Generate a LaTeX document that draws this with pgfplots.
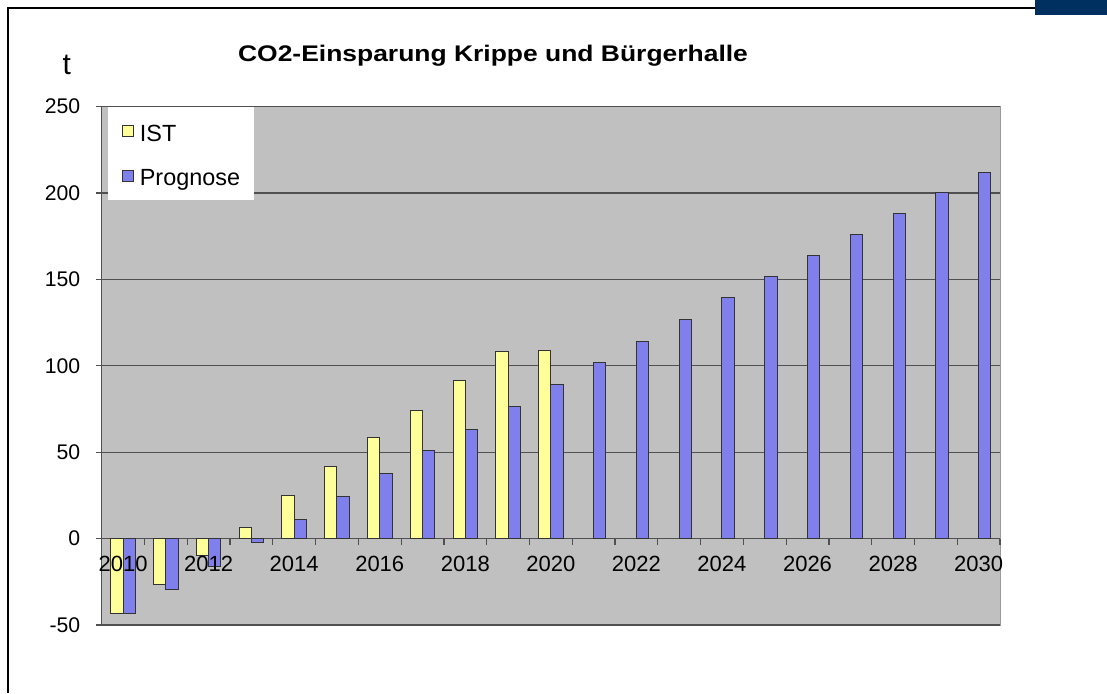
\documentclass[border=0pt]{standalone}
\usepackage{fontspec}
\setmainfont{Liberation Sans}
\usepackage{graphicx}
\usepackage{pgfplots}
\pgfplotsset{compat=1.18}
\definecolor{bgc}{RGB}{192,192,192}
\definecolor{istc}{RGB}{255,255,153}
\definecolor{proc}{RGB}{128,128,236}
\definecolor{gridc}{RGB}{80,80,80}
\definecolor{navy}{RGB}{0,48,96}
\pgfplotsset{common/.style={
  at={(50.85pt,34pt)}, anchor=south west,
  scale only axis, width=449.15pt, height=259.25pt,
  xmin=2009.5, xmax=2030.5, ymin=-50, ymax=250,
  enlargelimits=false,
  hide obscured x ticks=false, hide obscured y ticks=false,
  xtick={2010,2012,...,2030},
  xticklabels={2010,2012,2014,2016,2018,2020,2022,2024,2026,2028,2030},
  every major x tick/.append style={draw=none},
  minor tick length=3pt, major tick length=3pt,
  tick align=outside,
  xticklabel style={font=\fontsize{11}{13}\selectfont, yshift=-2pt},
}}
\begin{document}
\begin{tikzpicture}
\useasboundingbox (0,0) rectangle (553.5pt,346.5pt);
\fill[white] (0,0) rectangle (553.5pt,346.5pt);
\begin{axis}[
  common,
  axis x line*=middle, axis y line*=left,
  axis line style={draw=gridc, line width=0.6pt},
  axis background/.style={fill=bgc, draw=gray!80},
  ybar=0pt, bar width=6.15pt,
  xticklabels={},
  minor xtick={2009.5,2010.5,...,2030.5},
  tick style={draw=gridc, line width=0.6pt},
  ytick={-50,0,50,100,150,200,250},
  ymajorgrids, grid style={draw=gridc, line width=0.6pt},
  /pgf/number format/assume math mode=true,
  yticklabel style={font=\fontsize{10.6}{13}\selectfont, xshift=-4.2pt},
  legend image code/.code={\draw[#1, draw=black!80, line width=0.5pt] (0pt,-2.7pt) rectangle (5.4pt,2.7pt); \path (8.4pt,0pt);},
  legend cell align=left,
  legend style={at={(0.007,1)}, anchor=north west, draw=none, fill=white,
    font=\fontsize{11.7}{13}\selectfont, inner xsep=6.85pt, inner ysep=4pt,
    row sep=6.1pt, nodes={inner sep=0pt, text height=13.2pt, text depth=3pt}},
  clip=false,
]
\addplot[fill=istc, draw=black!80, line width=0.5pt] coordinates {
 (2010,-43.4) (2011,-26.6) (2012,-9.8) (2013,6.5) (2014,24.7) (2015,41.8)
 (2016,58.4) (2017,74.2) (2018,91.5) (2019,108.3) (2020,108.7)};
\addplot[fill=proc, draw=black!80, line width=0.5pt] coordinates {
 (2010,-43.4) (2011,-29.5) (2012,-16) (2013,-2.5) (2014,10.8) (2015,24.1)
 (2016,37.4) (2017,50.7) (2018,63.4) (2019,76.5) (2020,89.4) (2021,101.7)
 (2022,114.3) (2023,127) (2024,139.5) (2025,151.6) (2026,164) (2027,176.1)
 (2028,188.3) (2029,200.4) (2030,211.7)};
\legend{IST,Prognose}
\end{axis}
\begin{axis}[
  common,
  axis x line*=middle, axis y line=none,
  axis line style={draw=none},
  ytick=\empty,
]
\addplot[draw=none, forget plot] coordinates {(2010,0) (2030,0)};
\end{axis}
\node[anchor=base, font=\bfseries\fontsize{11.3}{13}\selectfont, inner sep=0pt] at (246.5pt,315.65pt) {\scalebox{1.17}[1]{CO2-Einsparung Krippe und Bürgerhalle}};
\node[anchor=base, font=\fontsize{15}{17}\selectfont, inner sep=0pt] at (33.35pt,309.5pt) {t};
\draw[line width=1pt] (4pt,0) -- (4pt,342.5pt) -- (517.5pt,342.5pt);
\fill[navy] (517.5pt,339pt) rectangle (553.5pt,346.5pt);
\end{tikzpicture}
\end{document}
